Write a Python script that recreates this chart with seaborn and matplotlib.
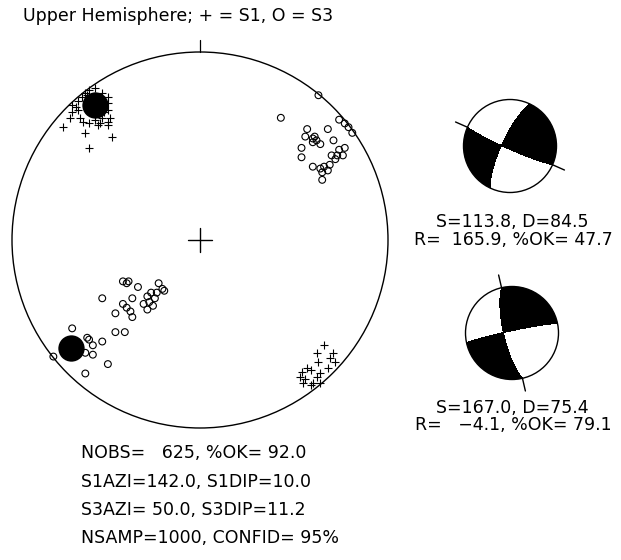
import numpy as np
import pandas as pd
import matplotlib
matplotlib.use("Agg")
import matplotlib.pyplot as plt
import seaborn as sns

# ============================
# data
# ============================
title = "Upper Hemisphere; + = S1, O = S3"

# S1 samples (plus signs), unit-circle coordinates, x = east, y = north
s1_x = [-0.61, -0.59, -0.56, -0.52, -0.49, -0.49, -0.65, -0.68, -0.68, -0.69,
        -0.64, -0.56, -0.53, -0.49, -0.48, -0.52, -0.65, -0.49, -0.54, -0.49,
        -0.73, -0.61, -0.47, -0.59, -0.63, -0.60, -0.66, -0.62, -0.59, -0.51,
        0.66, 0.62, 0.71, 0.69, 0.72, 0.63, 0.68, 0.57, 0.54, 0.59,
        0.64, 0.53, 0.56, 0.60, 0.64, 0.59, 0.62, 0.55]
s1_y = [0.78, 0.80, 0.81, 0.78, 0.76, 0.73, 0.74, 0.72, 0.68, 0.65,
        0.65, 0.64, 0.62, 0.63, 0.65, 0.65, 0.69, 0.69, 0.61, 0.61,
        0.60, 0.57, 0.55, 0.49, 0.76, 0.77, 0.71, 0.63, 0.62, 0.68,
        -0.56, -0.60, -0.60, -0.63, -0.65, -0.65, -0.68, -0.68, -0.70, -0.69,
        -0.71, -0.73, -0.74, -0.76, -0.76, -0.77, -0.73, -0.76]

# S3 samples (open circles)
s3_x = [0.63, 0.43, 0.74, 0.77, 0.79, 0.81, 0.57, 0.56, 0.60, 0.62,
        0.60, 0.64, 0.54, 0.61, 0.68, 0.71, 0.77, 0.74, 0.73, 0.76,
        0.70, 0.72, 0.54, 0.60, 0.64, 0.66, 0.69, 0.68, 0.65, 0.65,
        -0.41, -0.38, -0.39, -0.33, -0.22, -0.20, -0.19, -0.23, -0.26, -0.28,
        -0.24, -0.27, -0.30, -0.25, -0.28, -0.36, -0.52, -0.41, -0.39, -0.37,
        -0.36, -0.45, -0.45, -0.40, -0.68, -0.60, -0.59, -0.57, -0.52, -0.57,
        -0.61, -0.78, -0.49, -0.61]
s3_y = [0.77, 0.65, 0.64, 0.62, 0.60, 0.57, 0.59, 0.55, 0.54, 0.53,
        0.52, 0.51, 0.49, 0.55, 0.59, 0.53, 0.49, 0.48, 0.45, 0.45,
        0.45, 0.43, 0.44, 0.39, 0.38, 0.39, 0.40, 0.37, 0.36, 0.32,
        -0.22, -0.22, -0.23, -0.25, -0.23, -0.26, -0.27, -0.28, -0.28, -0.30,
        -0.31, -0.33, -0.34, -0.35, -0.37, -0.31, -0.31, -0.34, -0.36, -0.38,
        -0.41, -0.39, -0.49, -0.49, -0.47, -0.52, -0.53, -0.56, -0.54, -0.61,
        -0.60, -0.62, -0.66, -0.71]

# best solution axes
axis_azi = [142.0, 50.0]
axis_dip = [10.0, 11.2]

# focal mechanisms
mech_strike = [113.8, 167.0]
mech_dip = [84.5, 75.4]
mech_rake = [165.9, -4.1]
mech_ok = [47.7, 79.1]

nobs, pct_ok = 625, 92.0
nsamp, confid = 1000, 95

# ============================
# settings
# ============================
sns.set_theme(style="white")
plt.rcParams['font.family'] = ['DejaVu Sans']
plt.rcParams['text.color'] = 'black'
FS = 12.5
W, H = 621, 560

fig = plt.figure(figsize=(W / 100, H / 100), dpi=100)


def place_axes(cx, cy, rad, lim):
    half = rad * lim
    ax = fig.add_axes([(cx - half) / W, (H - cy - half) / H, 2 * half / W, 2 * half / H])
    ax.set_xlim(-lim, lim)
    ax.set_ylim(-lim, lim)
    ax.set_aspect('equal')
    ax.axis('off')
    return ax


def upper_eq_area(azi, dip):
    # equal-area, upper hemisphere -> trend flipped by 180
    azi = np.asarray(azi, float)
    dip = np.asarray(dip, float)
    r = np.sqrt(2) * np.sin(np.radians(90 - dip) / 2)
    a = np.radians(azi + 180)
    return r * np.sin(a), r * np.cos(a)


def polarity_grid(strike, dip, rake, lim, n=501):
    phi, dl, lam = np.radians([strike, dip, rake])
    nrm = np.array([-np.sin(dl) * np.sin(phi), np.sin(dl) * np.cos(phi), -np.cos(dl)])
    slip = np.array([np.cos(lam) * np.cos(phi) + np.cos(dl) * np.sin(lam) * np.sin(phi),
                     np.cos(lam) * np.sin(phi) - np.cos(dl) * np.sin(lam) * np.cos(phi),
                     -np.sin(lam) * np.sin(dl)])
    M = np.outer(slip, nrm) + np.outer(nrm, slip)
    g = np.linspace(-lim, lim, n)
    X, Y = np.meshgrid(g, g)
    r = np.clip(np.hypot(X, Y), 0, 1)
    inc = 2 * np.arcsin(r / np.sqrt(2))
    az = np.arctan2(X, Y)
    ray = np.stack([np.sin(inc) * np.cos(az), np.sin(inc) * np.sin(az), np.cos(inc)])
    amp = np.einsum('i...,ij,j...->...', ray, M, ray)
    return X, Y, amp


# ============================
# main stereonet
# ============================
ax = place_axes(200, 240, 188, 1.1)
ax.add_patch(plt.Circle((0, 0), 1, fill=False, lw=1.0, color='black'))
ax.plot([0, 0], [1, 1.065], color='black', lw=0.9)
ax.plot([-0.063, 0.063], [0, 0], color='black', lw=1.0)
ax.plot([0, 0], [-0.063, 0.063], color='black', lw=1.0)

df1 = pd.DataFrame({'x': s1_x, 'y': s1_y})
df3 = pd.DataFrame({'x': s3_x, 'y': s3_y})
sns.scatterplot(data=df1, x='x', y='y', ax=ax, marker='+', s=32,
                color='black', linewidth=0.8, clip_on=False, legend=False)
sns.scatterplot(data=df3, x='x', y='y', ax=ax, marker='o', s=24,
                facecolor='none', edgecolor='black', linewidth=0.8,
                clip_on=False, legend=False)

bx, by = upper_eq_area(axis_azi, axis_dip)
dfb = pd.DataFrame({'x': bx, 'y': by})
sns.scatterplot(data=dfb, x='x', y='y', ax=ax, s=360, color='black',
                linewidth=0, legend=False, zorder=5)
ax.set_xlim(-1.1, 1.1)
ax.set_ylim(-1.1, 1.1)
ax.set_xlabel("")
ax.set_ylabel("")

# ============================
# focal mechanisms
# ============================
ball_pos = [(510, 146, 46.5), (512, 333, 46.5)]
cap_y = [(222, 240), (408, 425)]
for k in range(2):
    cx, cy, rad = ball_pos[k]
    bax = place_axes(cx, cy, rad, 1.35)
    X, Y, amp = polarity_grid(mech_strike[k], mech_dip[k], mech_rake[k], 1.35)
    cs = bax.contourf(X, Y, amp, levels=[-1e9, 0, 1e9], colors=['white', 'black'])
    clip = plt.Circle((0, 0), 1, transform=bax.transData)
    cs.set_clip_path(clip)
    bax.add_patch(plt.Circle((0, 0), 1, fill=False, lw=1.0, color='black'))
    for a in (mech_strike[k], mech_strike[k] + 180):
        t = np.radians(a)
        rr = np.array([1.0, 1.28])
        bax.plot(rr * np.sin(t), rr * np.cos(t), color='black', lw=1.0)

    l1 = f"S={mech_strike[k]:.1f}, D={mech_dip[k]:.1f}"
    l2 = f"R={mech_rake[k]:7.1f}, %OK={mech_ok[k]:5.1f}".replace('-', '\u2212')
    fig.text(512 / W, 1 - cap_y[k][0] / H, l1, ha='center', va='center', fontsize=FS)
    fig.text(513 / W, 1 - cap_y[k][1] / H, l2, ha='center', va='center', fontsize=FS)

# ============================
# text
# ============================
fig.text(178 / W, 1 - 16 / H, title, ha='center', va='center', fontsize=FS)

lines = [
    f"NOBS={nobs:6d}, %OK={pct_ok:5.1f}",
    f"S1AZI={axis_azi[0]:5.1f}, S1DIP={axis_dip[0]:4.1f}",
    f"S3AZI={axis_azi[1]:5.1f}, S3DIP={axis_dip[1]:4.1f}",
    f"NSAMP={nsamp:4d}, CONFID={confid:3d}%",
]
for yy, txt in zip([453, 482, 510, 538], lines):
    fig.text(81 / W, 1 - yy / H, txt, ha='left', va='center', fontsize=FS)

fig.savefig('out.png', dpi=100)
